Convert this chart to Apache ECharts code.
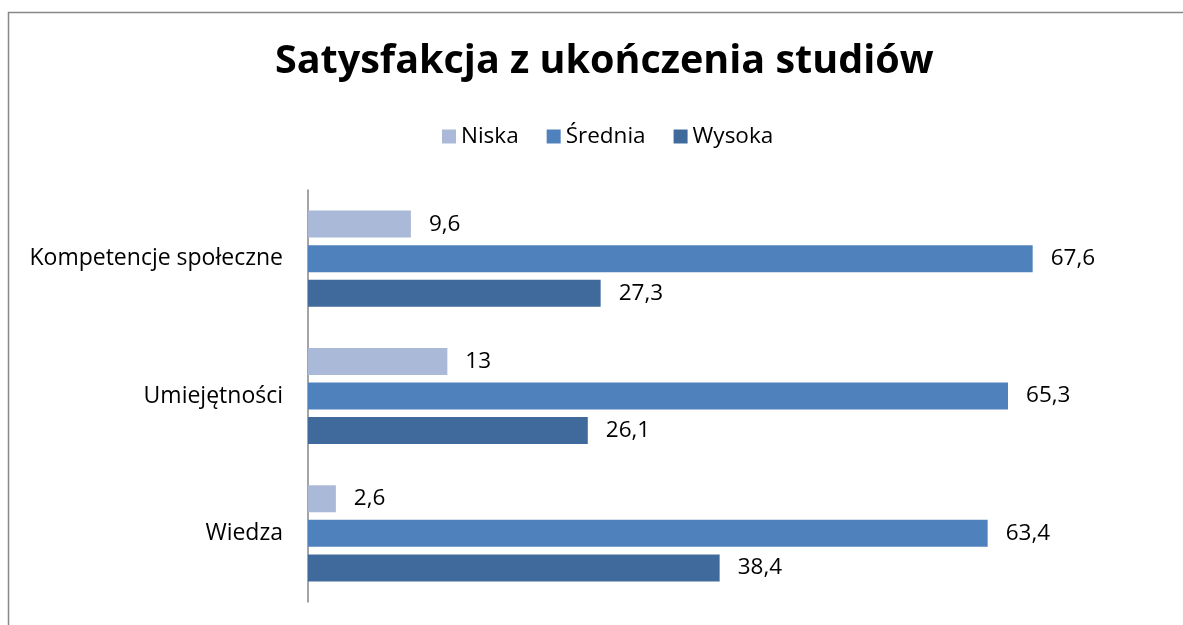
<!DOCTYPE html>
<html>
<head>
<meta charset="utf-8">
<script src="https://cdn.jsdelivr.net/npm/echarts@6/dist/echarts.min.js"></script>
<style>
html,body{margin:0;padding:0;background:#fff;}
#chart{width:1183px;height:625px;}
</style>
</head>
<body>
<div id="chart"></div>
<script>
const categories = ["Kompetencje społeczne", "Umiejętności", "Wiedza"];
const seriesNames = ["Niska", "Średnia", "Wysoka"];
const niska = [9.6, 13, 2.6];
const srednia = [67.6, 65.3, 63.4];
const wysoka = [27.3, 26.1, 38.4];
const colors = ["#aab9d7", "#4f81bd", "#416a9c"];
const values = [niska, srednia, wysoka];

const FONT = "Open Sans";
const FS = 22.5;
const chart = echarts.init(document.getElementById('chart'));
chart.setOption({
  animation: false,
  title: {
    text: "Satysfakcja z ukończenia studiów",
    left: 270,
    top: 37,
    textStyle: { fontFamily: FONT, fontWeight: 'bold', fontSize: 39.5, color: '#000' }
  },
  legend: {
    data: seriesNames,
    top: 120,
    left: 437,
    itemWidth: 14,
    itemHeight: 14,
    itemGap: 28,
    icon: 'rect',
    textStyle: { fontFamily: FONT, fontSize: FS, color: '#000' }
  },
  grid: { left: 308, right: 17.4, top: 190, bottom: 23, containLabel: false },
  xAxis: {
    type: 'value', min: 0, max: 80,
    show: false
  },
  yAxis: {
    type: 'category',
    data: categories,
    inverse: true,
    axisLine: { show: true, lineStyle: { color: '#868686', width: 1.5 } },
    axisTick: { show: false },
    axisLabel: { fontFamily: FONT, fontSize: 23, color: '#000', margin: 25 }
  },
  graphic: [{
    type: 'polyline',
    shape: { points: [[8.5, 625], [8.5, 12.5], [1183, 12.5]] },
    style: { stroke: '#878787', lineWidth: 1.5, fill: null },
    silent: true
  }],
  series: seriesNames.map((n, i) => ({
    name: n,
    type: 'bar',
    data: values[i],
    barWidth: 27,
    barGap: '28%',
    itemStyle: { color: colors[i] },
    label: {
      show: true, position: 'right', distance: 18,
      fontFamily: FONT, fontSize: FS, color: '#000',
      formatter: p => String(p.value).replace('.', ',')
    }
  }))
});
</script>
</body>
</html>
